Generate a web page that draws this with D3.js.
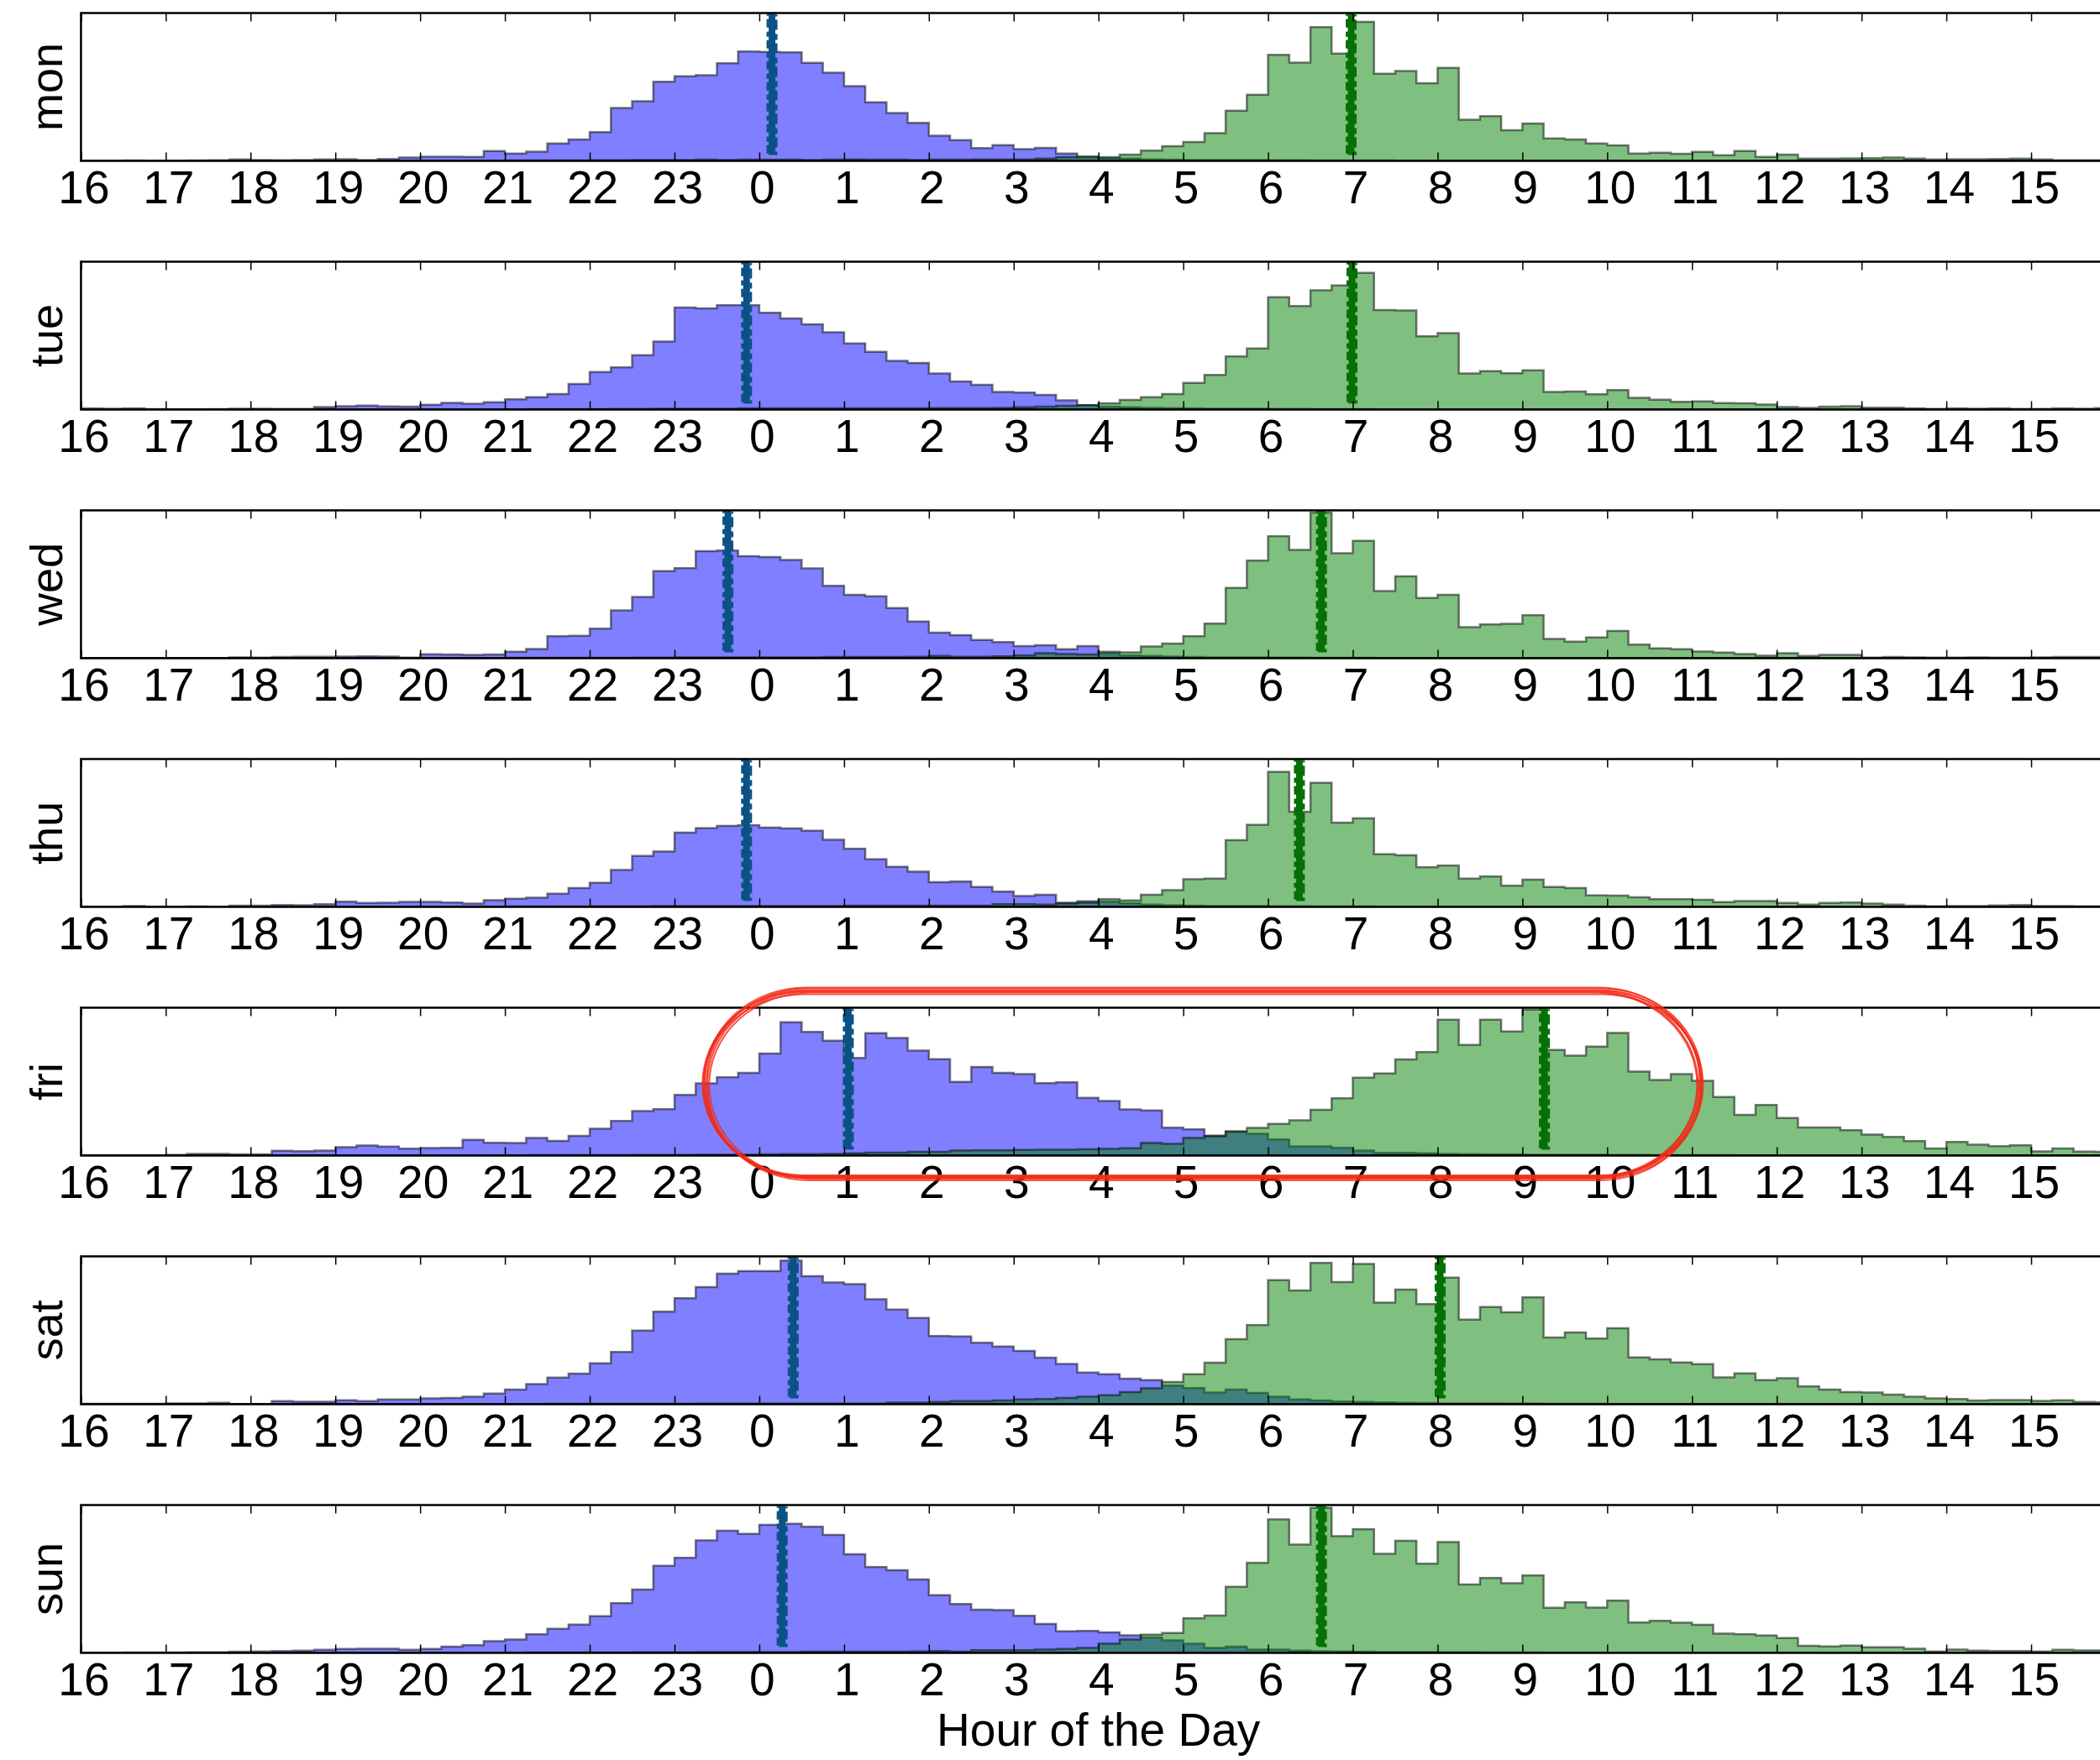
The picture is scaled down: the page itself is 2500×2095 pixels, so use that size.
<!DOCTYPE html>
<html>
<head>
<meta charset="utf-8">
<script src="https://cdn.jsdelivr.net/npm/d3@7"></script>
<style>
  body { margin: 0; background: #fff; }
  text { font-family: "Liberation Sans", Arial, Helvetica, sans-serif; }
</style>
</head>
<body>
<div id="chart"></div>
<script>
// days of the week, one panel each
var days = ["mon", "tue", "wed", "thu", "fri", "sat", "sun"];

// hour ticks along the x axis (the axis starts at 16h and wraps past midnight)
var hourTicks = [16, 17, 18, 19, 20, 21, 22, 23, 0, 1, 2, 3, 4, 5, 6, 7, 8, 9, 10, 11, 12, 13, 14, 15];

// quarter-hour bins from 16:00 onwards, height in % of the panel
var sleepMon = [0.2,0.2,0.3,0.2,0.2,0.3,0.4,1,0.6,0.4,0.6,1,1.1,0.6,1.3,2.3,
  2.9,2.9,2.7,6.7,5,6.3,11.8,14.5,19.4,35.8,40.4,53.5,57.3,58,66,74,
  73.7,73.5,66.3,59.6,50.5,39.6,32.4,25.7,17,14,8.6,10.7,8,8.8,5,2.5,
  1.9,1.5,1,0.8,0.6,0.6,0.5,0.5,0.4,0.4,0.3,0.3,0.3,0.3,0.2,0.2,
  0.2,0.2,0.2,0.2,0.2,0.2,0.2,0.2,0.1,0.1,0.1,0.1,0.1,0.1,0.1,0.1,
  0.1,0.1,0.1,0.1,0.1,0.1,0.1,0.1,0.1,0.1,0.1,0.1,0.1,0.1,0.1,0.1];
var wakeMon = [0.1,0.1,0.1,0.1,0.1,0.1,0.1,0.1,0.1,0.1,0.1,0.1,0.1,0.1,0.1,0.1,
  0.2,0.2,0.2,0.2,0.3,0.3,0.3,0.3,0.4,0.4,0.5,0.5,0.6,0.8,0.6,0.8,
  0.8,0.8,0.6,0.8,1,0.8,0.8,0.6,0.8,0.8,1,1,1,1.5,2.5,3,
  2.5,4.2,6.9,10,12.8,18.7,34,44.8,71.8,66.5,90.5,72.6,94,59,60.8,52.6,
  62.9,27.8,30.3,20.8,25.3,15.2,14.5,11.8,10.5,5,5.5,4.8,6.1,3.8,6.7,2.7,
  4.2,1.5,1.5,1.7,1.9,2.3,1.5,1,1.1,1.1,1.3,1.5,1,0.4,0.4,0.4];

var sleepTue = [0.8,0.6,0.8,0.3,0.2,0.2,0.3,0.6,0.6,0.4,0.4,1.7,2.3,2.7,2.1,2,
  3.2,4.6,4,5,7,8.4,10.5,17.4,25.4,28.6,36.8,46,69,68.5,70.6,70.6,
  65.5,61.6,57.6,52.3,44.8,39,33,31.5,24.4,19,16.8,12,11.5,10,6.3,3,
  2,1.5,1.2,1,0.8,0.6,0.6,0.5,0.4,0.4,0.3,0.3,0.3,0.2,0.2,0.2,
  0.2,0.2,0.2,0.2,0.2,0.2,0.2,0.2,0.1,0.1,0.1,0.1,0.1,0.1,0.1,0.1,
  0.1,0.1,0.1,0.1,0.1,0.1,0.1,0.1,0.1,0.1,0.1,0.1,0.1,0.1,0.1,0.1];
var wakeTue = [0.1,0.1,0.1,0.1,0.1,0.1,0.1,0.1,0.1,0.1,0.1,0.1,0.1,0.1,0.1,0.1,
  0.2,0.2,0.2,0.2,0.2,0.3,0.3,0.3,0.3,0.4,0.4,0.5,0.5,0.6,0.6,0.8,
  0.8,0.8,0.8,0.8,0.8,0.8,0.8,0.8,1,1,1,1.2,1.5,2,2.5,3,
  4.2,6.5,8.4,10.5,18,23.5,36,41.4,76,70,80.7,84,92.5,67.4,67,49.6,
  51.7,24.4,26,24.6,26.5,12,12.2,10.3,13.2,8,6.7,5.2,5.5,4.4,4.2,3.4,
  1.7,1.1,2,2.3,1.3,1.3,0.8,0.4,0.8,0.6,0.8,0.4,0.4,0.8,0.6,1];

var sleepWed = [0.2,0.2,0.2,0.2,0.2,0.2,0.2,0.6,0.4,0.8,1,1,1.1,1.3,1.1,0.4,
  2.7,2.5,2.3,2.5,4.4,6.3,14.9,15.2,20,32.4,41.5,59,61,72.4,72.8,69.1,
  68.4,66.5,60.8,49,42.9,41.9,34,24.8,17.3,15.6,12.4,11,8.2,8.8,6.1,8.2,
  3.4,1.9,1.5,1.1,0.8,0.6,0.5,0.5,0.4,0.4,0.3,0.3,0.3,0.2,0.2,0.2,
  0.2,0.2,0.2,0.2,0.2,0.2,0.2,0.2,0.1,0.1,0.1,0.1,0.1,0.1,0.1,0.1,
  0.1,0.1,0.1,0.1,0.1,0.1,0.1,0.1,0.1,0.1,0.1,0.1,0.1,0.1,0.1,0.1];
var wakeWed = [0.1,0.1,0.1,0.1,0.1,0.1,0.1,0.1,0.1,0.1,0.1,0.1,0.1,0.1,0.1,0.1,
  0.2,0.2,0.2,0.2,0.3,0.3,0.3,0.3,0.3,0.3,0.4,0.4,0.5,0.5,0.5,0.6,
  0.6,0.6,0.6,0.8,0.8,0.8,0.8,1,1.5,1,1,1.3,1.9,3.4,2.9,2.5,
  4.4,4,8,10,14.9,23.4,47.6,66,82.5,73.3,98.5,71,79.4,45.5,55.4,40.8,
  42.9,21,22.9,23.3,29.1,13.1,11.2,14.1,18.5,9.3,6.7,6.1,4.6,3.8,2.9,1.7,
  3.4,1.5,2.3,2.3,0.4,0.8,0.6,0.4,0.4,0.6,0.4,0.4,0.6,0.8,0.8,0.8];

var sleepThu = [0.2,0.2,0.6,0.2,0.2,0.3,0.2,0.8,0.8,1.3,1.1,1.9,3.6,2.7,2.9,3.4,
  3.4,3,2.3,4.6,5.5,6.3,9,12.8,16.4,25,34.5,37.5,50.3,53.3,54.8,55.2,
  53.7,53.1,51.6,45.5,39.4,32.2,27.2,23.8,16.8,17.2,13.5,10.3,7.4,8.2,2.9,3.8,
  3.5,2.5,1.5,1.1,0.8,0.6,0.5,0.5,0.4,0.4,0.3,0.3,0.3,0.2,0.2,0.2,
  0.2,0.2,0.2,0.2,0.2,0.2,0.2,0.2,0.1,0.1,0.1,0.1,0.1,0.1,0.1,0.1,
  0.1,0.1,0.1,0.1,0.1,0.1,0.1,0.1,0.1,0.1,0.1,0.1,0.1,0.1,0.1,0.1];
var wakeThu = [0.1,0.1,0.1,0.1,0.1,0.1,0.1,0.1,0.1,0.1,0.1,0.1,0.1,0.1,0.1,0.1,
  0.2,0.2,0.2,0.2,0.3,0.3,0.3,0.3,0.4,0.4,0.4,0.5,0.5,0.5,0.6,0.6,
  0.6,0.6,0.6,0.6,0.8,0.8,0.8,0.8,0.8,0.8,0.8,1.9,1.9,1.5,2.3,2.9,
  5.3,4.4,8.2,11.4,18.7,19.2,45.1,55.6,91.4,64.4,84,57,60,35.6,34.9,26.9,
  28,19.2,20.6,14.3,18.5,13.5,12.8,7.8,7.6,6.5,5.3,5.3,4.8,3.2,4,4,
  2.7,1.5,2.7,3,2.3,1.5,0.8,0.4,0.6,0.6,1,1.3,0.6,0.6,0.4,0.4];

var sleepFri = [0.2,0.2,0.2,0.2,0.4,1.1,1.1,0.9,0.9,3.2,3,3.4,5.7,6.8,6.1,4.7,
  5.1,5.3,10.6,8.7,8.5,11.9,10,13.4,18.2,23.5,30.1,31.4,41.1,48.9,53,55.9,
  69.1,90.2,83.7,77.7,66,82.8,79.5,71,65.2,49.8,60,55.9,55.1,49,49.6,39,
  36.9,31.3,30.5,18.9,17.8,13.5,16,14.8,11,6.3,6.3,5.3,3.4,1.9,1.9,1.5,
  1.1,1,0.8,0.8,0.6,0.6,0.5,0.5,0.4,0.4,0.3,0.3,0.3,0.3,0.2,0.2,
  0.2,0.2,0.2,0.2,0.2,0.2,0.2,0.2,0.1,0.1,0.1,0.1,0.1,0.1,0.1,0.1];
var wakeFri = [0.1,0.1,0.1,0.1,0.1,0.1,0.1,0.1,0.1,0.1,0.1,0.1,0.1,0.1,0.1,0.1,
  0.2,0.2,0.2,0.2,0.2,0.3,0.3,0.3,0.3,0.3,0.4,0.4,0.4,0.5,0.5,0.6,
  0.8,1,1,1.2,1.5,2,2,2.5,2.5,3.4,3.6,3.6,3.8,4,4,4.2,
  4.5,5,8.5,8,12,13,16.5,18.8,21.4,23.9,30.9,38.8,52.7,55.5,65,70,
  91.9,74.8,91.9,83.9,98.7,71.4,67.6,73.7,83,56.8,51.1,55.1,50.6,39.6,27.5,34.3,
  25.4,19.1,19.1,17.2,14.2,12.7,9.8,4.9,9.3,7.4,6.4,7,2.8,4.9,2.7,2.5];

var sleepSat = [0.3,0.3,0.3,0.3,0.6,0.6,1,0.2,0.2,2.1,1.7,1.7,2.7,2.1,3.2,3.2,
  4,4.2,5.1,7.2,10,13.7,18,20.7,27.7,35.3,49.9,62.6,71.7,79.3,88.4,90.1,
  90.1,97.2,86.7,82.4,81.2,71,64.1,58.4,46.1,45.9,41.6,39.1,36.1,31.5,27.3,21.4,
  20.3,17.3,16.3,12.7,11,8,10,7.6,5.1,3.2,2.5,1.9,1.5,1.3,1,0.8,
  0.6,0.5,0.5,0.4,0.4,0.3,0.3,0.3,0.2,0.2,0.2,0.2,0.2,0.2,0.2,0.2,
  0.1,0.1,0.1,0.1,0.1,0.1,0.1,0.1,0.1,0.1,0.1,0.1,0.1,0.1,0.1,0.1];
var wakeSat = [0.1,0.1,0.1,0.1,0.1,0.1,0.1,0.1,0.1,0.1,0.1,0.1,0.1,0.1,0.1,0.1,
  0.2,0.2,0.2,0.2,0.2,0.2,0.3,0.3,0.3,0.3,0.3,0.3,0.3,0.4,0.4,0.4,
  0.4,0.4,0.4,0.4,0.4,0.4,1.1,1.1,1.5,2.1,2.1,2.5,3.2,3.6,4.2,5.1,
  6.1,8.3,10.8,15,20.3,28.1,44,53.5,83.9,77,95.6,82.7,94.9,68.7,77.6,67.7,
  85.6,57.3,65.7,62.2,72.3,45.2,48.6,44.4,51.4,31.7,30.4,28.3,27.1,18.2,20.9,16.3,
  17.6,12.1,10,8.3,8,6.6,5.1,4,3.6,2.5,2.8,2.8,2.3,2.7,1.5,1.3];

var sleepSun = [0.2,0.2,0.3,0.3,0.3,0.4,0.4,0.8,1,1.3,1.5,2.1,2.7,2.9,2.9,2.1,
  2.7,4.2,5.3,8,9.1,12.6,16.4,19.2,24.8,33.7,42.9,59,64.4,76.2,82.7,80.6,
  86.7,87.4,85.3,79.8,66.7,58.1,56,49.7,39,33.1,29.3,29,25.1,19.6,14.7,14.9,
  13.9,12,10.5,8.5,6.3,3.4,4.2,2.3,2.3,1.5,1.1,1,0.8,0.6,0.5,0.5,
  0.4,0.4,0.3,0.3,0.3,0.2,0.2,0.2,0.2,0.2,0.2,0.2,0.1,0.1,0.1,0.1,
  0.1,0.1,0.1,0.1,0.1,0.1,0.1,0.1,0.1,0.1,0.1,0.1,0.1,0.1,0.1,0.1];
var wakeSun = [0.1,0.1,0.1,0.1,0.1,0.1,0.1,0.1,0.1,0.1,0.1,0.1,0.1,0.1,0.1,0.1,
  0.2,0.2,0.2,0.2,0.2,0.3,0.3,0.3,0.3,0.3,0.4,0.4,0.4,0.5,0.5,0.6,
  0.6,0.6,0.8,0.8,0.8,0.8,0.8,1,1.3,0.8,1.9,1.9,1.9,2.3,2.7,3.4,
  6.3,9.1,12.4,13.5,23.4,25.3,44.8,61,90.3,73.3,98.1,79,83.6,67,75.8,60.4,
  75,46.3,50.7,47.2,52.4,30.5,34.3,30.7,35.4,20.6,21.7,20.4,19,13.1,12.6,11.8,
  10.1,4.8,4.4,5,3.8,3.8,2.9,1,2.3,1.5,1.3,1.3,1,2.1,1.7,1.7];

// median bed time and wake-up time per day (hours)
var sleepMedian = [0.15, 23.85, 23.63, 23.85, 1.05, 0.4, 0.27];
var wakeMedian = [6.98, 6.99, 6.63, 6.37, 9.26, 8.03, 6.63];

// the hand drawn loop around friday: hour span and level span (% of panel)
var loopHours = [23.35, 11.1];
var loopLevels = [112, -15];

var sleepData = [sleepMon, sleepTue, sleepWed, sleepThu, sleepFri, sleepSat, sleepSun];
var wakeData = [wakeMon, wakeTue, wakeWed, wakeThu, wakeFri, wakeSat, wakeSun];

// hours before 16h belong to the next day on this axis
function wrap(h) { return h < 16 ? h + 24 : h; }

var W = 2500, H = 2095;
var left = 96.4, hourPx = 100.94;
var panelTop0 = 15.5, panelStep = 296, panelH = 176;
var fontSize = 55;

var svg = d3.select("#chart")
  .append("svg")
    .attr("width", W)
    .attr("height", H)
    .style("background", "#fff");

var x = d3.scaleLinear()
  .domain([16, 40])
  .range([left, left + 24 * hourPx]);

var plotRight = x(40);

function binPoints(values) {
  var pts = values.map(function(v, j) { return {x: 16 + j * 0.25, v: v}; });
  pts.push({x: 40, v: values[values.length - 1]});
  return pts;
}

var yScales = [];

days.forEach(function(day, i) {
  var top = panelTop0 + panelStep * i;
  var y = d3.scaleLinear().domain([0, 100]).range([top + panelH, top]);
  yScales.push(y);

  svg.append("clipPath")
      .attr("id", "clip" + i)
    .append("rect")
      .attr("x", left)
      .attr("y", top)
      .attr("width", plotRight - left)
      .attr("height", panelH);

  var g = svg.append("g").attr("clip-path", "url(#clip" + i + ")");

  var area = d3.area()
    .curve(d3.curveStepAfter)
    .x(function(d) { return x(d.x); })
    .y0(y(0))
    .y1(function(d) { return y(d.v); });

  // blue = going to bed, green = getting up
  g.append("path")
    .datum(binPoints(sleepData[i]))
    .attr("d", area)
    .attr("fill", "#0000ff")
    .attr("fill-opacity", 0.5)
    .attr("stroke", "#000")
    .attr("stroke-opacity", 0.5)
    .attr("stroke-width", 2.5);

  g.append("path")
    .datum(binPoints(wakeData[i]))
    .attr("d", area)
    .attr("fill", "#008000")
    .attr("fill-opacity", 0.5)
    .attr("stroke", "#000")
    .attr("stroke-opacity", 0.5)
    .attr("stroke-width", 2.5);

  // median markers, drawn as a rough band
  var medians = [
    {h: wrap(sleepMedian[i]), color: "#0a5283"},
    {h: wrap(wakeMedian[i]), color: "#057005"}
  ];
  medians.forEach(function(m) {
    var mx = x(m.h);
    g.append("line")
      .attr("x1", mx).attr("x2", mx)
      .attr("y1", y(4)).attr("y2", y(100))
      .attr("stroke", m.color)
      .attr("stroke-width", 8);
    g.append("line")
      .attr("x1", mx - 5).attr("x2", mx - 5)
      .attr("y1", y(5)).attr("y2", y(100))
      .attr("stroke", m.color)
      .attr("stroke-width", 3)
      .attr("stroke-dasharray", "10 4 6 5");
    g.append("line")
      .attr("x1", mx + 5).attr("x2", mx + 5)
      .attr("y1", y(4)).attr("y2", y(99))
      .attr("stroke", m.color)
      .attr("stroke-width", 3)
      .attr("stroke-dasharray", "7 5 12 4")
      .attr("stroke-dashoffset", 3);
  });

  var tickHours = hourTicks.map(wrap);

  // bottom axis with labels, ticks pointing inward
  var bottomAxis = svg.append("g")
    .attr("transform", "translate(0," + (top + panelH) + ")")
    .call(d3.axisBottom(x)
      .tickValues(tickHours)
      .tickSize(-10)
      .tickPadding(11)
      .tickFormat(function(d) { return d % 24; }));
  bottomAxis.select(".domain").remove();
  bottomAxis.selectAll("line").attr("stroke-width", 1.5);
  bottomAxis.selectAll("text")
    .attr("dx", 3)
    .style("font-size", fontSize + "px")
    .style("font-family", '"Liberation Sans", Arial, Helvetica, sans-serif');

  var topAxis = svg.append("g")
    .attr("transform", "translate(0," + top + ")")
    .call(d3.axisTop(x)
      .tickValues(tickHours)
      .tickSize(-10)
      .tickFormat(""));
  topAxis.select(".domain").remove();
  topAxis.selectAll("line").attr("stroke-width", 1.5);

  // frame
  svg.append("rect")
    .attr("x", left)
    .attr("y", top)
    .attr("width", plotRight - left)
    .attr("height", panelH)
    .attr("fill", "none")
    .attr("stroke", "#000")
    .attr("stroke-width", 2.5);

  // day label
  svg.append("text")
    .attr("transform", "translate(74," + (top + panelH / 2) + ") rotate(-90)")
    .attr("text-anchor", "middle")
    .style("font-size", (fontSize - 1) + "px")
    .text(day);
});

// x axis title
svg.append("text")
  .attr("x", (left + plotRight) / 2)
  .attr("y", 2078)
  .attr("text-anchor", "middle")
  .style("font-size", fontSize + "px")
  .text("Hour of the Day");

// red hand drawn loop around friday
var yFri = yScales[4];
var lx0 = x(wrap(loopHours[0])), lx1 = x(wrap(loopHours[1]));
var ly0 = yFri(loopLevels[0]), ly1 = yFri(loopLevels[1]);
var jitter = [[0, 0, 0, 0], [3, -2, 2, 1], [-2, 2, -3, -2], [4, 1, 1, 3], [1, -3, -1, -1], [6, 3, -4, 0], [-1, 5, 3, -3]];
jitter.forEach(function(j) {
  svg.append("rect")
    .attr("x", lx0 + j[0])
    .attr("y", ly0 + j[1])
    .attr("width", lx1 - lx0 + j[2] - j[0])
    .attr("height", ly1 - ly0 + j[3] - j[1])
    .attr("rx", 120)
    .attr("ry", 110)
    .attr("fill", "none")
    .attr("stroke", "#f22a18")
    .attr("stroke-opacity", 0.8)
    .attr("stroke-width", 2);
});
</script>
</body>
</html>
